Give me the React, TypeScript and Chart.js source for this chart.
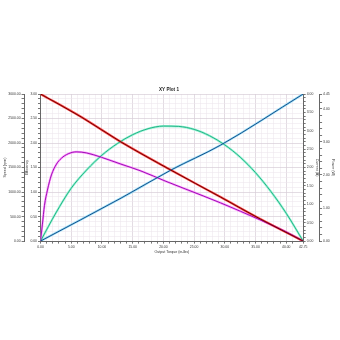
import React, { useEffect, useRef } from 'react';
import { Chart, registerables } from 'chart.js';

Chart.register(...registerables);

// ---- Data ----
const torqueMax = 42.75;

const speedTorque = [0, 6.64, 13.12, 21.21, 29.31, 35.79, 42.75];
const speedRpm = [3000, 2531, 2020, 1449, 898, 449, 0];

const currentTorque = [0, 13.12, 21.21, 29.31, 42.75];
const currentAmps = [0, 1.17, 1.93, 2.61, 4.0];

const powerTorque = [0, 2.5, 5, 7.5, 10, 12.5, 15, 17.5, 20, 22.5, 25, 27.5, 30, 32.5, 35, 37.5, 40, 42.75];
const powerWatts = [0, 0.85, 1.6, 2.15, 2.6, 2.95, 3.22, 3.4, 3.48, 3.47, 3.38, 3.19, 2.91, 2.54, 2.07, 1.5, 0.84, 0];

const effTorque = [0, 0.3, 0.65, 1.13, 1.78, 2.6, 3.4, 4.5, 5.8, 7.45, 9.9, 13.1, 16.35, 20.4, 23.65, 29.3, 35.8, 39.8, 42.75];
const effValues = [0, 0.33, 0.73, 1.04, 1.35, 1.57, 1.69, 1.78, 1.82, 1.8, 1.71, 1.57, 1.43, 1.22, 1.06, 0.78, 0.43, 0.2, 0];

const chartTitle = 'XY Plot 1';
const xTitle = 'Output Torque (in-lbs)';
const speedTitle = 'Speed (rpm)';
const effTitle = 'Efficiency';
const currentTitle = 'Current (A)';
const powerTitle = 'Power (W)';

export default function App() {
  const ref = useRef<HTMLCanvasElement>(null);

  useEffect(() => {
    if (!ref.current) return;
    const family = '"Liberation Sans", Arial, sans-serif';
    const pts = (xs: number[], ys: number[]) => xs.map((x, i) => ({ x, y: ys[i] }));
    const on = (v: number, step: number) => Math.abs(v / step - Math.round(v / step)) < 1e-6;

    const axis = (o: any) => ({
      type: 'linear',
      position: o.position,
      weight: o.weight,
      min: o.min,
      max: o.max,
      ticks: {
        stepSize: o.step,
        autoSkip: false,
        maxRotation: 0,
        minRotation: 0,
        padding: 1,
        color: '#333',
        font: { size: 3.4, family },
        callback: (v: number) => (on(v, o.major) || Math.abs(v - o.max) < 1e-9 ? v.toFixed(2) : ''),
      },
      grid: {
        drawOnChartArea: !!o.grid,
        drawTicks: true,
        tickLength: 2.5,
        tickColor: '#777',
        lineWidth: 1,
        color: (ctx: any) =>
          ctx.tick && on(ctx.tick.value, o.major) ? 'rgba(215,205,215,0.7)' : 'rgba(236,230,236,0.55)',
      },
      border: { display: true, color: '#666', width: 1 },
      title: {
        display: true,
        text: o.title,
        color: '#333',
        font: { size: 3.6, family },
        padding: { top: 0.5, bottom: 0.5 },
      },
    });

    const line = (data: any, axisId: string, color: string, width: number, tension = 0) => ({
      data,
      yAxisID: axisId,
      borderColor: color,
      backgroundColor: color,
      borderWidth: width,
      pointRadius: 0,
      fill: false,
      tension,
      cubicInterpolationMode: tension ? 'monotone' : 'default',
    });

    const speed = pts(speedTorque, speedRpm);
    const current = pts(currentTorque, currentAmps);
    const power = pts(powerTorque, powerWatts);
    const eff = pts(effTorque, effValues);

    // Dataset 0 is drawn on top in Chart.js: cores first, halos after.
    const chart = new Chart(ref.current, {
      type: 'line',
      data: {
        datasets: [
          line(speed, 'ySpeed', '#6e0000', 1, 0.3),
          line(current, 'yCurrent', '#1c4f8c', 1, 0.3),
          line(eff, 'yEff', '#9c12b4', 1, 0.4),
          line(power, 'yPower', '#26b487', 1, 0.4),
          line(speed, 'ySpeed', 'rgba(255,40,40,0.85)', 2.2, 0.3),
          line(current, 'yCurrent', 'rgba(120,215,245,0.8)', 2.2, 0.3),
          line(eff, 'yEff', 'rgba(255,120,255,0.75)', 2.2, 0.4),
          line(power, 'yPower', 'rgba(120,240,200,0.75)', 2.2, 0.4),
        ] as any,
      },
      options: {
        responsive: false,
        animation: false,
        parsing: { xAxisKey: 'x', yAxisKey: 'y' } as any,
        layout: { padding: { top: 87, bottom: 85, left: 2, right: 4 } },
        plugins: {
          legend: { display: false },
          tooltip: { enabled: false },
          title: {
            display: true,
            text: chartTitle,
            color: '#222',
            font: { size: 4.6, weight: 'bold', family },
            padding: { top: 0, bottom: 1.5 },
          },
        },
        scales: {
          x: axis({ position: 'bottom', min: 0, max: torqueMax, step: 1, major: 5, grid: true, title: xTitle }),
          ySpeed: axis({ position: 'left', weight: 2, min: 0, max: 3000, step: 100, major: 500, grid: true, title: speedTitle }),
          yEff: axis({ position: 'left', weight: 1, min: 0, max: 3, step: 0.1, major: 0.5, title: effTitle }),
          yCurrent: axis({ position: 'right', weight: 1, min: 0, max: 4, step: 0.1, major: 0.5, title: currentTitle }),
          yPower: axis({ position: 'right', weight: 2, min: 0, max: 4.45, step: 0.2, major: 1, title: powerTitle }),
        } as any,
      },
    });
    return () => chart.destroy();
  }, []);

  return (
    <div style={{ position: 'absolute', left: 0, top: 0, width: 340, height: 340, background: '#fff' }}>
      <canvas ref={ref} width={340} height={340} style={{ display: 'block' }} />
    </div>
  );
}
